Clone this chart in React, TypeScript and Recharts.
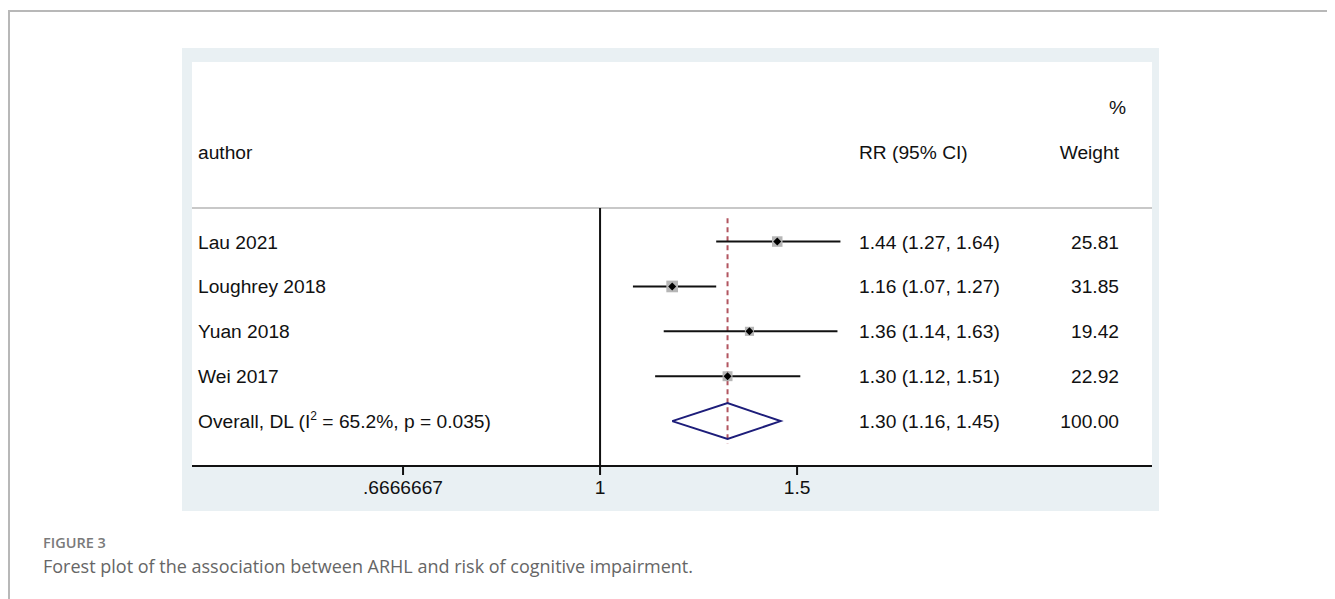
import React from "react";
import {
  ComposedChart,
  Scatter,
  XAxis,
  YAxis,
  ReferenceLine,
} from "recharts";

// study data
const studies = ["Lau 2021", "Loughrey 2018", "Yuan 2018", "Wei 2017"];
const rr = [1.44, 1.16, 1.36, 1.3];
const lower = [1.27, 1.07, 1.14, 1.12];
const upper = [1.64, 1.27, 1.63, 1.51];
const weights = [25.81, 31.85, 19.42, 22.92];

const overallLabel = "Overall, DL";
const overallStats = "65.2%, p = 0.035";
const overall = { rr: 1.3, lower: 1.16, upper: 1.45, weight: 100.0 };

const tickValues = [0.6666667, 1, 1.5];
const tickLabels = [".6666667", "1", "1.5"];

const FONT = '"Liberation Sans", Arial, Helvetica, sans-serif';
const FS = 19.2;
const fmt2 = (v: number) => v.toFixed(2);
const ciText = (e: number, l: number, u: number) =>
  `${fmt2(e)} (${fmt2(l)}, ${fmt2(u)})`;

// text column positions inside the plot (px)
const COL_LABEL = 6;
const COL_CI = 667;
const COL_WEIGHT = 927;

const studyRows = studies.map((s, i) => ({
  x: rr[i],
  y: i,
  lower: lower[i],
  upper: upper[i],
  weight: weights[i],
}));

const overallRow = studies.length;

const tableRows = [
  { x: 1, y: -3, label: "", ci: "", w: "%", kind: "head" },
  { x: 1, y: -2, label: "author", ci: "RR (95% CI)", w: "Weight", kind: "head" },
  ...studies.map((s, i) => ({
    x: 1,
    y: i,
    label: s,
    ci: ciText(rr[i], lower[i], upper[i]),
    w: fmt2(weights[i]),
    kind: "study",
  })),
  {
    x: 1,
    y: overallRow,
    label: overallLabel,
    ci: ciText(overall.rr, overall.lower, overall.upper),
    w: fmt2(overall.weight),
    kind: "overall",
  },
];

const diamond = [
  { x: overall.lower, y: overallRow },
  { x: overall.rr, y: overallRow - 0.4 },
  { x: overall.upper, y: overallRow },
  { x: overall.rr, y: overallRow + 0.4 },
  { x: overall.lower, y: overallRow },
];

const BoxShape = (props: any) => {
  const { cx, cy, payload } = props;
  const side = 2.07 * Math.sqrt(payload.weight);
  const m = 4;
  return (
    <g>
      <rect x={cx - side / 2} y={cy - side / 2} width={side} height={side} fill="#b6b6b6" />
      <polygon
        points={`${cx - m},${cy} ${cx},${cy - m} ${cx + m},${cy} ${cx},${cy + m}`}
        fill="#000"
      />
    </g>
  );
};

const TextShape = (props: any) => {
  const { cy, payload } = props;
  const y = cy + 7;
  const common = { fontFamily: FONT, fontSize: FS, fill: "#111" };
  const wx = payload.w === "%" ? COL_WEIGHT + 7 : COL_WEIGHT;
  return (
    <g>
      {payload.kind === "overall" ? (
        <text x={COL_LABEL} y={y} {...common}>
          <tspan>{payload.label} (I</tspan>
          <tspan dy={-8} fontSize={12}>2</tspan>
          <tspan dy={8}> = {overallStats})</tspan>
        </text>
      ) : (
        <text x={COL_LABEL} y={y} {...common}>
          {payload.label}
        </text>
      )}
      <text x={COL_CI} y={y} {...common}>
        {payload.ci}
      </text>
      <text x={wx} y={y} textAnchor="end" {...common}>
        {payload.w}
      </text>
    </g>
  );
};

const Empty = () => <g />;

export default function App() {
  return (
    <div style={{ position: "relative", width: 1327, height: 591, overflow: "hidden" }}>
      <div
        style={{
          position: "absolute",
          left: 0,
          top: 2,
          width: 1326,
          height: 700,
          border: "2px solid #b8b8b8",
          boxSizing: "border-box",
        }}
      />
      <div
        style={{
          position: "absolute",
          left: 174,
          top: 40,
          width: 977,
          height: 463,
          background: "#e9f0f3",
        }}
      />
      <div
        style={{
          position: "absolute",
          left: 184,
          top: 54,
          width: 960,
          height: 404,
          background: "#ffffff",
        }}
      />
      <div style={{ position: "absolute", left: 184, top: 54 }}>
        <ComposedChart
          width={960}
          height={449}
          margin={{ top: 0, right: 0, bottom: 0, left: 0 }}
        >
          <XAxis
            type="number"
            dataKey="x"
            scale="log"
            domain={[0.4318, 3.114]}
            allowDataOverflow
            ticks={tickValues}
            tickFormatter={(v: number, i: number) => tickLabels[i] ?? String(v)}
            height={45}
            tickSize={9}
            tickMargin={5}
            axisLine={{ stroke: "#111", strokeWidth: 2 }}
            tickLine={{ stroke: "#111", strokeWidth: 2 }}
            tick={{ fontFamily: FONT, fontSize: FS, fill: "#111" }}
          />
          <YAxis type="number" dataKey="y" domain={[-4, 5]} reversed hide allowDataOverflow />
          <ReferenceLine y={-0.75} stroke="#c8c8c8" strokeWidth={2} />
          <ReferenceLine
            segment={[{ x: 1, y: -0.75 }, { x: 1, y: 5 }]}
            stroke="#111"
            strokeWidth={2}
          />
          <ReferenceLine
            segment={[{ x: overall.rr, y: -0.52 }, { x: overall.rr, y: 4.5 }]}
            stroke="#b25560"
            strokeWidth={2}
            strokeDasharray="5 4"
          />
          {studyRows.map((r) => (
            <ReferenceLine
              key={r.y}
              segment={[{ x: r.lower, y: r.y }, { x: r.upper, y: r.y }]}
              stroke="#111"
              strokeWidth={2}
            />
          ))}
          <Scatter
            data={diamond}
            line={{ stroke: "#1d1d7a", strokeWidth: 2 }}
            shape={Empty}
            isAnimationActive={false}
          />
          <Scatter data={studyRows} shape={BoxShape} isAnimationActive={false} />
          <Scatter data={tableRows} shape={TextShape} isAnimationActive={false} />
        </ComposedChart>
      </div>
      <div
        style={{
          position: "absolute",
          left: 35,
          top: 528,
          fontFamily: '"Open Sans", "Noto Sans", sans-serif',
          fontSize: 14.5,
          lineHeight: "14.5px",
          fontWeight: 600,
          color: "#7a7a7a",
        }}
      >
        FIGURE 3
      </div>
      <div
        style={{
          position: "absolute",
          left: 35,
          top: 549,
          fontFamily: '"Open Sans", "Noto Sans", sans-serif',
          fontSize: 18,
          lineHeight: "18px",
          color: "#666",
          whiteSpace: "nowrap",
        }}
      >
        Forest plot of the association between ARHL and risk of cognitive impairment.
      </div>
    </div>
  );
}
